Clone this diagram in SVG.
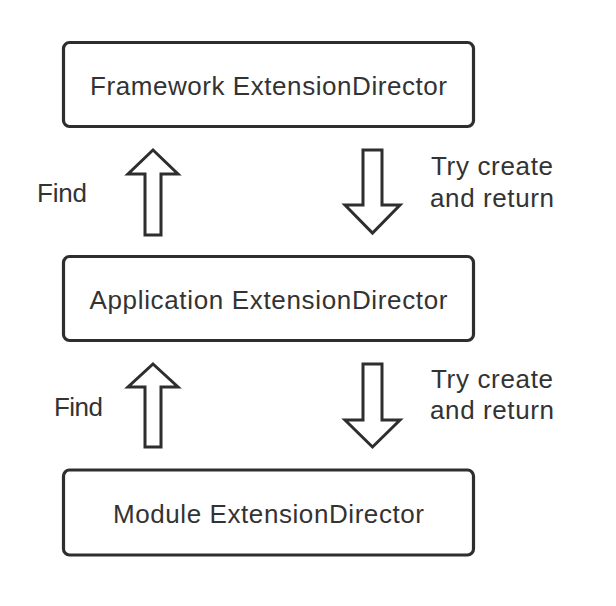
<svg xmlns="http://www.w3.org/2000/svg" width="616" height="606" viewBox="0 0 616 606">
<style>
.box{fill:#fff;stroke:#2e2e2e;stroke-width:3.2}
.arr{fill:#fff;stroke:#2e2e2e;stroke-width:3;stroke-linejoin:miter}
text{font-family:"Liberation Sans",Arial,sans-serif;font-size:26px;fill:#333}
.c{text-anchor:middle}
</style>
<rect width="616" height="606" fill="#fff"/>
<g id="framework">
<rect class="box" x="63.5" y="42.5" width="410" height="84" rx="6"/>
<text class="c" x="268.5" y="95" textLength="357">Framework ExtensionDirector</text>
</g>
<g id="application">
<rect class="box" x="63.5" y="256.5" width="410" height="84" rx="6"/>
<text class="c" x="268.5" y="309" textLength="358">Application ExtensionDirector</text>
</g>
<g id="module">
<rect class="box" x="63.5" y="470" width="410" height="85" rx="6"/>
<text class="c" x="268.5" y="523" textLength="311">Module ExtensionDirector</text>
</g>
<g id="connectors">
<polygon class="arr" points="153,150 178,174 161,174 161,235 145,235 145,174 128,174"/>
<polygon class="arr" points="363,150 382,150 382,205 400,205 372.5,233 345,205 363,205"/>
<polygon class="arr" points="153,364 178,387 161,387 161,447 145,447 145,387 128,387"/>
<polygon class="arr" points="363,364 382,364 382,420 400,420 372.5,447 345,420 363,420"/>
<text x="37" y="202" textLength="50">Find</text>
<text x="431" y="175" textLength="122">Try create</text>
<text x="430" y="207" textLength="124">and return</text>
<text x="54" y="416" textLength="49">Find</text>
<text x="431" y="388" textLength="122">Try create</text>
<text x="430" y="419" textLength="124">and return</text>
</g>
</svg>
